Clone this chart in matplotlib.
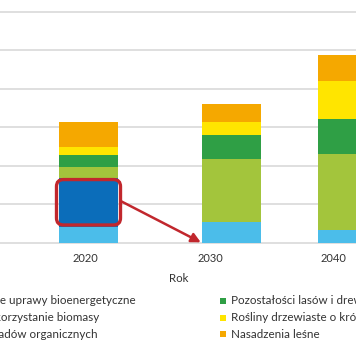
import matplotlib
matplotlib.use('Agg')
import matplotlib.pyplot as plt
from matplotlib.patches import FancyBboxPatch, Rectangle

plt.rcParams['font.family'] = ['Lato', 'DejaVu Sans']

# ---- data ----
years = ['2020', '2030', '2040']
odpady = [8.3, 10.8, 6.6]            # Strumienie odpadów organicznych
tradycyjne = [25.5, 0.0, 0.0]        # Tradycyjne wykorzystanie biomasy
uprawy = [5.4, 32.7, 39.5]           # Konwencjonalne uprawy bioenergetyczne
pozostalosci = [6.5, 12.7, 18.4]     # Pozostałości lasów i drewna
drzewiaste = [4.2, 6.6, 19.6]        # Rośliny drzewiaste o krótkiej rotacji
nasadzenia = [12.7, 9.0, 13.6]       # Nasadzenia leśne

labels = ['Konwencjonalne uprawy bioenergetyczne',
          'Tradycyjne wykorzystanie biomasy',
          'Strumienie odpadów organicznych',
          'Pozostałości lasów i drewna',
          'Rośliny drzewiaste o krótkiej rotacji',
          'Nasadzenia leśne']
x_label = 'Rok'

# ---- style / layout ----
c_odpady = '#4BBDEA'
c_trad = '#0B6DBA'
c_uprawy = '#A3C53C'
c_pozost = '#2F9F45'
c_drzew = '#FFE500'
c_nasadz = '#F5A800'
c_red = '#C1272D'
txt = '#333333'

W, H = 356, 364
bar_pos = [88.5, 231.5, 347.0]
lbl_pos = [85, 210, 333]
bar_w = 58.5
px_per_unit = 38.5 / 20.0
base_px = 242.7
bottom_px = 250

fig = plt.figure(figsize=(W / 100, H / 100), dpi=100)
ax = fig.add_axes([0, (H - bottom_px) / H, 1, bottom_px / H])
ax.set_xlim(0, W)
ax.set_ylim(-(bottom_px - base_px) / px_per_unit, base_px / px_per_unit)

series = [(odpady, c_odpady), (tradycyjne, c_trad), (uprawy, c_uprawy),
          (pozostalosci, c_pozost), (drzewiaste, c_drzew), (nasadzenia, c_nasadz)]
bottoms = [0.0] * len(years)
for vals, col in series:
    ax.bar(bar_pos, vals, width=bar_w, bottom=bottoms, color=col, linewidth=0, zorder=2)
    bottoms = [b + v for b, v in zip(bottoms, vals)]

ax.set_yticks(range(0, 121, 20))
ax.yaxis.grid(True, color='#d6d6d6', linewidth=1.1, zorder=0)
ax.set_axisbelow(True)
for s in ax.spines.values():
    s.set_visible(False)
ax.tick_params(axis='y', left=False, labelleft=False)
ax.set_xticks(lbl_pos, years)
ax.tick_params(axis='x', length=0, pad=2.5, labelsize=8, labelcolor=txt)

# red rounded box around traditional biomass in 2020
aspect = 1 / px_per_unit
box_b = odpady[0] + 0.9
box_h = tradycyjne[0] - 1.9
box = FancyBboxPatch((bar_pos[0] - 32, box_b), 64, box_h,
                     boxstyle='round,pad=0,rounding_size=7', mutation_aspect=aspect,
                     facecolor='none', edgecolor=c_red, linewidth=2.4, zorder=4)
ax.add_patch(box)

# arrow to 2030
ax.annotate('', xy=(bar_pos[1] - bar_w / 2 - 1.5, 0.2),
            xytext=(bar_pos[0] + 32.5, odpady[0] + tradycyjne[0] * 0.52),
            arrowprops=dict(arrowstyle='-|>,head_length=0.55,head_width=0.28',
                            color=c_red, lw=1.8, shrinkA=0, shrinkB=0),
            zorder=5, annotation_clip=False)

# x axis title
fig.text(178.3 / W, 1 - 278.3 / H, x_label, ha='center', va='center', fontsize=8.3, color=txt)

# legend (two columns, partly cut by the figure edge)
fs = 8.4
r = fig.canvas.get_renderer()
tmp = fig.text(0, 0, 'Konwencjonaln', fontsize=fs)
wpref = tmp.get_window_extent(r).width
tmp.remove()

rows_y = [301.0, 317.5, 334.0]
cols = [(-wpref - 10.7, -wpref), (220.0, 230.7)]
colors_leg = [c_uprawy, c_trad, c_odpady, c_pozost, c_drzew, c_nasadz]
for i, (lab, col) in enumerate(zip(labels, colors_leg)):
    cx, tx = cols[i // 3]
    y = rows_y[i % 3]
    fig.patches.append(Rectangle((cx / W, 1 - (y + 3) / H), 6 / W, 6 / H,
                                 transform=fig.transFigure, facecolor=col,
                                 edgecolor='none', figure=fig))
    fig.text(tx / W, 1 - y / H, lab, ha='left', va='center', fontsize=fs, color=txt)

fig.savefig('out.png', dpi=100)
